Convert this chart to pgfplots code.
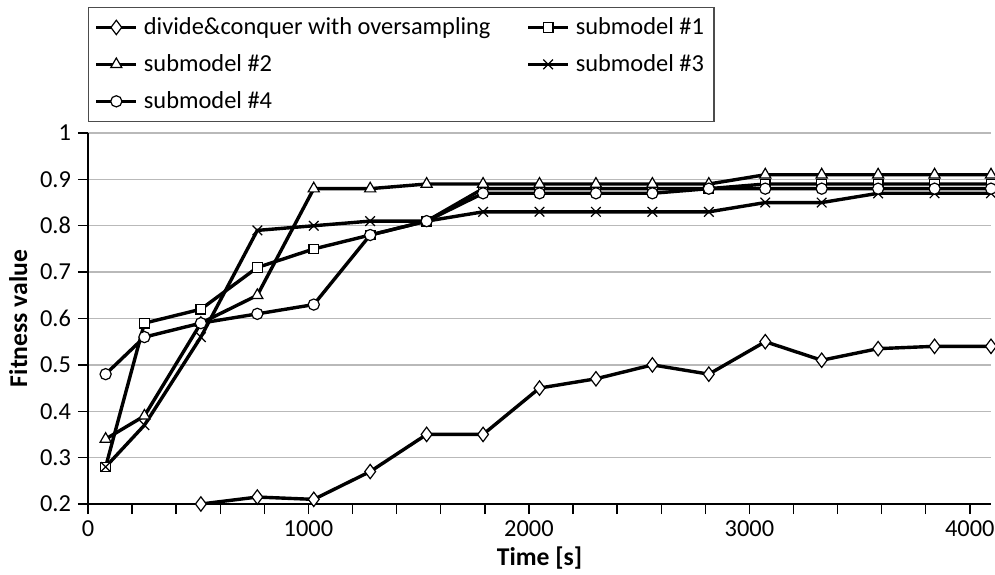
\documentclass[border=0pt]{standalone}
\usepackage{pgfplots}
\pgfplotsset{compat=1.18}
\usepackage{fontspec}
\setmainfont{Carlito}
\begin{document}
\begin{tikzpicture}
\begin{axis}[
  at={(0,0)}, anchor=south west,
  scale only axis, width=451.5pt, height=185.5pt,
  xmin=0, xmax=4096, ymin=0.2, ymax=1,
  axis x line*=bottom, axis y line*=left,
  axis line style={black, line width=0.8pt, -},
  xtick={0,1000,2000,3000,4000},
  minor x tick num=4,
  ytick={0.2,0.3,0.4,0.5,0.6,0.7,0.8,0.9,1},
  tick align=outside,
  major tick length=5pt, minor tick length=5pt,
  tick style={black, line width=0.7pt},
  ymajorgrids, major grid style={gray!55, line width=0.7pt},
  /pgf/number format/assume math mode=true,
  /pgf/number format/set thousands separator={},
  ticklabel style={font=\fontsize{12.2}{14}\selectfont},
  xlabel={\textbf{Time [s]}}, ylabel={\textbf{Fitness value}},
  label style={font=\fontsize{12.8}{15}\selectfont},
  xlabel style={yshift=2pt},
  ylabel style={yshift=-0.5pt},
  clip=false,
  legend columns=2,
  legend cell align=left,
  legend style={at={(0,1)}, anchor=south west, yshift=5.5pt,
    draw=black!70, line width=0.7pt, font=\fontsize{12.2}{14}\selectfont,
    row sep=4.5pt, inner xsep=3pt, inner ysep=3pt,
    /tikz/every odd column/.append style={column sep=1pt},
    /tikz/column 2/.style={column sep=16pt}},
  legend image code/.code={\draw[mark repeat=2,mark phase=2] plot coordinates {(0cm,0cm) (0.35cm,0cm) (0.7cm,0cm)};},
]
\addplot[black, line width=1.7pt, mark=diamond*, mark size=3.6pt, mark options={solid, line width=0.6pt, draw=black, fill=white}] coordinates {
(512,0.2) (768,0.215) (1024,0.21) (1280,0.27) (1536,0.35) (1792,0.35) (2048,0.45) (2304,0.47) (2560,0.50) (2816,0.48) (3072,0.55) (3328,0.51) (3584,0.535) (3840,0.54) (4096,0.54)};
\addlegendentry{divide\&conquer with oversampling}
\addplot[black, line width=1.7pt, mark=square*, mark size=2.4pt, mark options={solid, line width=0.6pt, draw=black, fill=white}] coordinates {
(80,0.28) (256,0.59) (512,0.62) (768,0.71) (1024,0.75) (1280,0.78) (1536,0.81) (1792,0.88) (2048,0.88) (2304,0.88) (2560,0.88) (2816,0.88) (3072,0.89) (3328,0.89) (3584,0.89) (3840,0.89) (4096,0.89)};
\addlegendentry{submodel \#1}
\addplot[black, line width=1.7pt, mark=triangle*, mark size=3.2pt, mark options={solid, line width=0.6pt, draw=black, fill=white}] coordinates {
(80,0.34) (256,0.39) (512,0.59) (768,0.65) (1024,0.88) (1280,0.88) (1536,0.89) (1792,0.89) (2048,0.89) (2304,0.89) (2560,0.89) (2816,0.89) (3072,0.91) (3328,0.91) (3584,0.91) (3840,0.91) (4096,0.91)};
\addlegendentry{submodel \#2}
\addplot[black, line width=1.7pt, mark=x, mark size=3.4pt, mark options={solid, line width=0.6pt, draw=black}] coordinates {
(80,0.28) (256,0.37) (512,0.56) (768,0.79) (1024,0.80) (1280,0.81) (1536,0.81) (1792,0.83) (2048,0.83) (2304,0.83) (2560,0.83) (2816,0.83) (3072,0.85) (3328,0.85) (3584,0.87) (3840,0.87) (4096,0.87)};
\addlegendentry{submodel \#3}
\addplot[black, line width=1.7pt, mark=*, mark size=2.8pt, mark options={solid, line width=0.6pt, draw=black, fill=white}] coordinates {
(80,0.48) (256,0.56) (512,0.59) (768,0.61) (1024,0.63) (1280,0.78) (1536,0.81) (1792,0.87) (2048,0.87) (2304,0.87) (2560,0.87) (2816,0.88) (3072,0.88) (3328,0.88) (3584,0.88) (3840,0.88) (4096,0.88)};
\addlegendentry{submodel \#4}
\end{axis}
\pgfresetboundingbox
\path (-44pt,-35pt) rectangle (453.5pt,252pt);
\end{tikzpicture}
\end{document}
